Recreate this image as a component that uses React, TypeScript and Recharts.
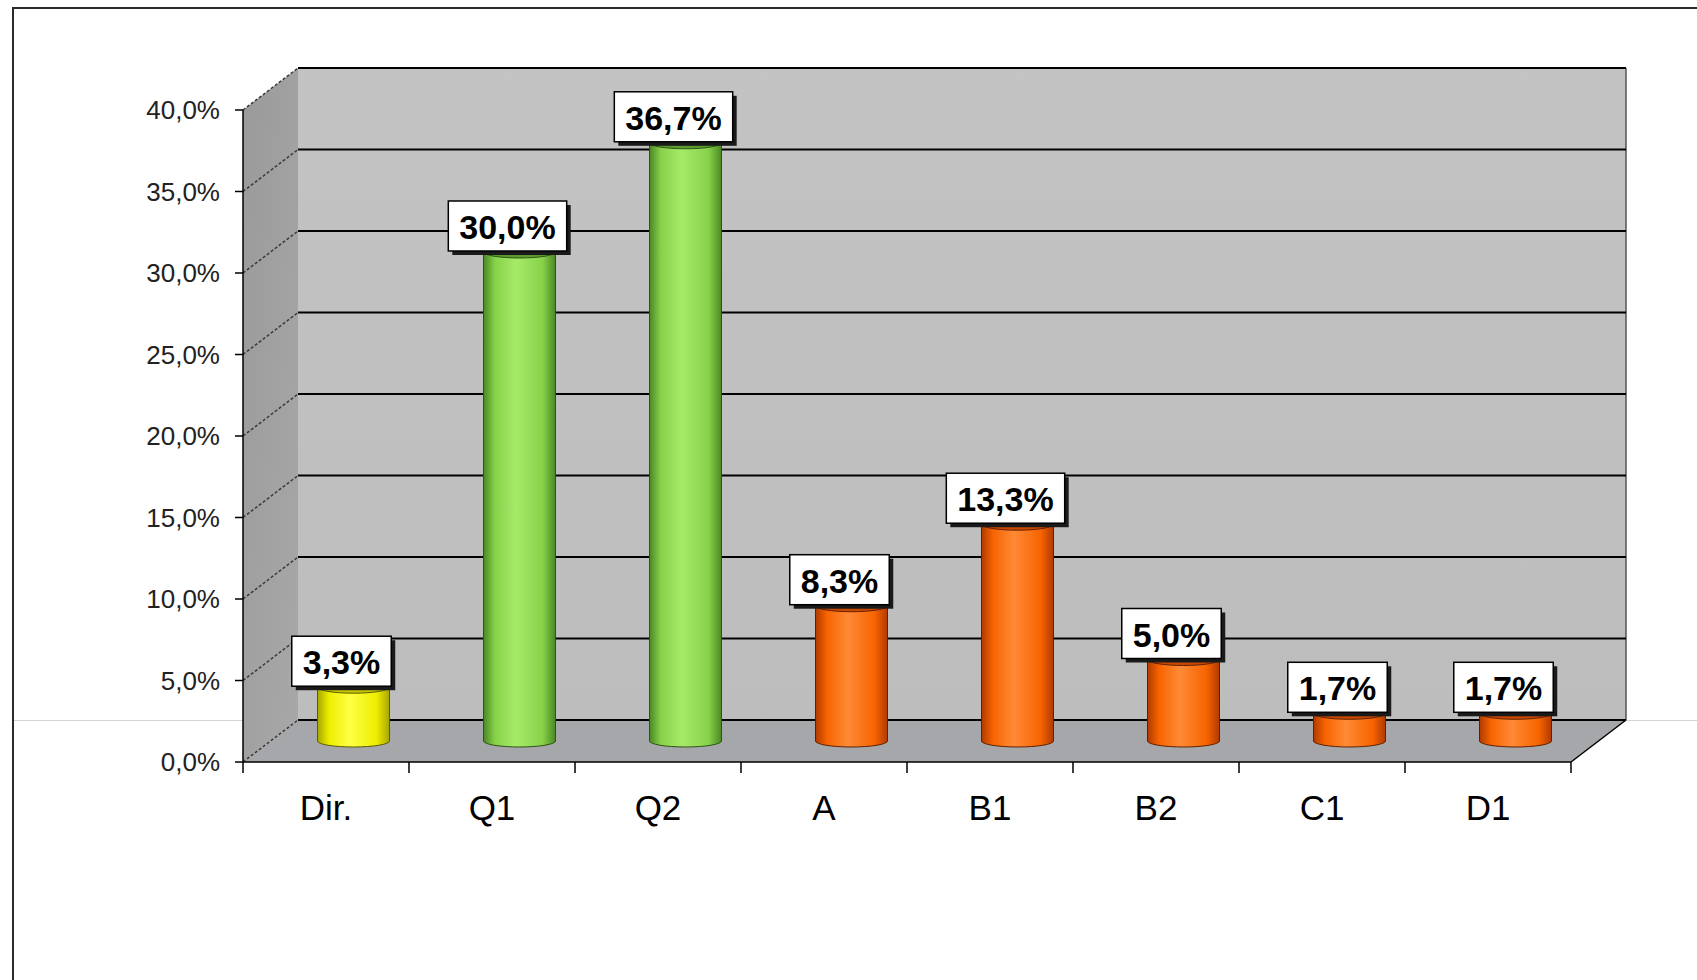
import React from 'react';
import { BarChart, Bar, XAxis, YAxis, CartesianGrid, ReferenceArea, LabelList } from 'recharts';

// ---- data ----
const categories = ['Dir.', 'Q1', 'Q2', 'A', 'B1', 'B2', 'C1', 'D1'];
const values = [3.3, 30.0, 36.7, 8.3, 13.3, 5.0, 1.7, 1.7];
const barColorKeys = ['yellow', 'green', 'green', 'orange', 'orange', 'orange', 'orange', 'orange'];
const yTicks = [0, 5, 10, 15, 20, 25, 30, 35, 40];

const data = categories.map((name, i) => ({ name, value: values[i], color: barColorKeys[i] }));

// ---- style ----
const DX = 55;
const DY = -42;
const FONT = '"Liberation Sans", Arial, Helvetica, sans-serif';

const palettes: Record<string, any> = {
  yellow: { dark: '#a6a600', base: '#eeee00', light: '#ffff45', top: '#c4c400', stroke: '#5e5e00' },
  green: { dark: '#4a8824', base: '#88d24a', light: '#a6ea6a', top: '#5c9a30', stroke: '#2c5512' },
  orange: { dark: '#b03a00', base: '#f76400', light: '#ff8a36', top: '#c84800', stroke: '#622000' },
};

const fmt = (v: number) => v.toFixed(1).replace('.', ',') + '%';

const charW = (ch: string) => (ch === ',' ? 0.278 : ch === '%' ? 0.889 : 0.556);

const Cylinder = (props: any) => {
  const { x, y, width, height, index, payload } = props;
  if (x == null || y == null) return null;
  const p = palettes[(payload && payload.color) || barColorKeys[index]] || palettes.orange;
  const rx = width / 2;
  const ry = 6;
  const cx = x + width / 2 + DX / 2;
  const top = y + DY / 2;
  const bottom = y + height + DY / 2;
  const id = `cylgrad-${index}`;
  return (
    <g>
      <defs>
        <linearGradient id={id} x1="0" y1="0" x2="1" y2="0">
          <stop offset="0" stopColor={p.dark} />
          <stop offset="0.16" stopColor={p.base} />
          <stop offset="0.45" stopColor={p.light} />
          <stop offset="0.82" stopColor={p.base} />
          <stop offset="1" stopColor={p.dark} />
        </linearGradient>
      </defs>
      <path
        d={`M${cx - rx},${top} L${cx - rx},${bottom} A${rx},${ry} 0 0 0 ${cx + rx},${bottom} L${cx + rx},${top} Z`}
        fill={`url(#${id})`}
        stroke={p.stroke}
        strokeWidth={1}
      />
      <ellipse cx={cx} cy={top} rx={rx} ry={ry} fill={p.top} stroke={p.stroke} strokeWidth={1} />
    </g>
  );
};

const ValueLabel = (props: any) => {
  const vb = props.viewBox || props;
  const x = vb.x ?? props.x;
  const y = vb.y ?? props.y;
  const width = vb.width ?? props.width;
  const value = props.value;
  if (x == null || y == null || value == null) return null;
  const text = fmt(Number(value));
  const fs = 34;
  const tw = text.split('').reduce((s: number, c: string) => s + charW(c), 0) * fs;
  const w = tw + 22;
  const h = 50;
  const cx = x + width / 2 + DX / 2 - 12;
  const bottom = y + DY / 2 - 1;
  const topY = bottom - h;
  const left = cx - w / 2;
  return (
    <g>
      <rect x={left + 4} y={topY + 4} width={w} height={h} fill="#1a1a1a" />
      <rect x={left} y={topY} width={w} height={h} fill="#ffffff" stroke="#000" strokeWidth={1.5} />
      <text
        x={cx}
        y={topY + h / 2 + 1}
        textAnchor="middle"
        dominantBaseline="central"
        fontFamily={FONT}
        fontWeight="bold"
        fontSize={fs}
        fill="#000"
      >
        {text}
      </text>
    </g>
  );
};

const Walls = (props: any) => {
  const { x, y, width, height } = props;
  if (x == null) return null;
  const L = x;
  const R = x + width;
  const T = y;
  const B = y + height;
  return (
    <g>
      <defs>
        <linearGradient id="sideWallGrad" x1="0" y1="0" x2="1" y2="1">
          <stop offset="0" stopColor="#9a9a9a" />
          <stop offset="1" stopColor="#a8a8a8" />
        </linearGradient>
        <linearGradient id="backWallGrad" x1="0" y1="0" x2="0" y2="1">
          <stop offset="0" stopColor="#c3c3c3" />
          <stop offset="1" stopColor="#bdbdbd" />
        </linearGradient>
      </defs>
      <polygon points={`${L},${T} ${L + DX},${T + DY} ${L + DX},${B + DY} ${L},${B}`} fill="url(#sideWallGrad)" />
      <rect x={L + DX} y={T + DY} width={width} height={height} fill="url(#backWallGrad)" />
      <polygon points={`${L},${B} ${L + DX},${B + DY} ${R + DX},${B + DY} ${R},${B}`} fill="#a6a7aa" />
      <line x1={L + DX} y1={T + DY} x2={R + DX} y2={T + DY} stroke="#444" strokeWidth={1.5} />
      <line x1={R + DX} y1={T + DY} x2={R + DX} y2={B + DY} stroke="#555" strokeWidth={1.5} />
      <line x1={R} y1={B} x2={R + DX} y2={B + DY} stroke="#000" strokeWidth={1.5} />
    </g>
  );
};

const GridLine = (props: any) => {
  const { x1, y1, x2, y2 } = props;
  return (
    <g>
      <line x1={x1 + DX} y1={y1 + DY} x2={x2 + DX} y2={y2 + DY} stroke="#000" strokeWidth={2} />
      <line x1={x1} y1={y1} x2={x1 + DX} y2={y1 + DY} stroke="#3a3a3a" strokeWidth={1.5} strokeDasharray="3 2" />
    </g>
  );
};

const XTick = (props: any) => {
  const { x, y, payload, index } = props;
  const off = payload && payload.offset ? payload.offset : 83;
  return (
    <g>
      <line x1={x - off} y1={y} x2={x - off} y2={y + 11} stroke="#000" strokeWidth={1.5} />
      {index === categories.length - 1 && (
        <line x1={x + off} y1={y} x2={x + off} y2={y + 11} stroke="#000" strokeWidth={1.5} />
      )}
      <text x={x} y={y + 58} textAnchor="middle" fontFamily={FONT} fontSize={35} fill="#000">
        {payload.value}
      </text>
    </g>
  );
};

export default function App() {
  return (
    <div style={{ position: 'absolute', left: 0, top: 0, width: 1697, height: 980, background: '#fff', overflow: 'hidden' }}>
      <div
        style={{
          position: 'absolute',
          left: 12,
          top: 7,
          width: 1697,
          height: 980,
          borderTop: '2px solid #2a2a2a',
          borderLeft: '2px solid #2a2a2a',
        }}
      />
      <div style={{ position: 'absolute', left: 14, top: 720, width: 1683, height: 1, background: '#d4d4d4' }} />
      <div style={{ position: 'absolute', left: 0, top: 0 }}>
        <BarChart
          width={1697}
          height={980}
          data={data}
          margin={{ top: 110, right: 126, bottom: 138, left: 0 }}
        >
          <ReferenceArea y1={0} y2={40} shape={<Walls />} zIndex={-200} ifOverflow="visible" />
          <CartesianGrid vertical={false} horizontal={(p: any) => <GridLine {...p} />} />
          <XAxis
            dataKey="name"
            type="category"
            height={80}
            tickLine={false}
            tickSize={0}
            tickMargin={0}
            axisLine={{ stroke: '#000', strokeWidth: 1.5 }}
            interval={0}
            tick={<XTick />}
          />
          <YAxis
            type="number"
            domain={[0, 40]}
            ticks={yTicks}
            interval={0}
            width={243}
            tickSize={8}
            tickMargin={15}
            tickLine={{ stroke: '#000', strokeWidth: 1.5 }}
            axisLine={{ stroke: '#000', strokeWidth: 1.5 }}
            tickFormatter={(v: number) => fmt(v)}
            tick={{ fontSize: 26, fill: '#222', fontFamily: FONT }}
          />
          <Bar dataKey="value" barSize={72} shape={<Cylinder />} isAnimationActive={false}>
            <LabelList dataKey="value" content={<ValueLabel />} />
          </Bar>
        </BarChart>
      </div>
    </div>
  );
}
